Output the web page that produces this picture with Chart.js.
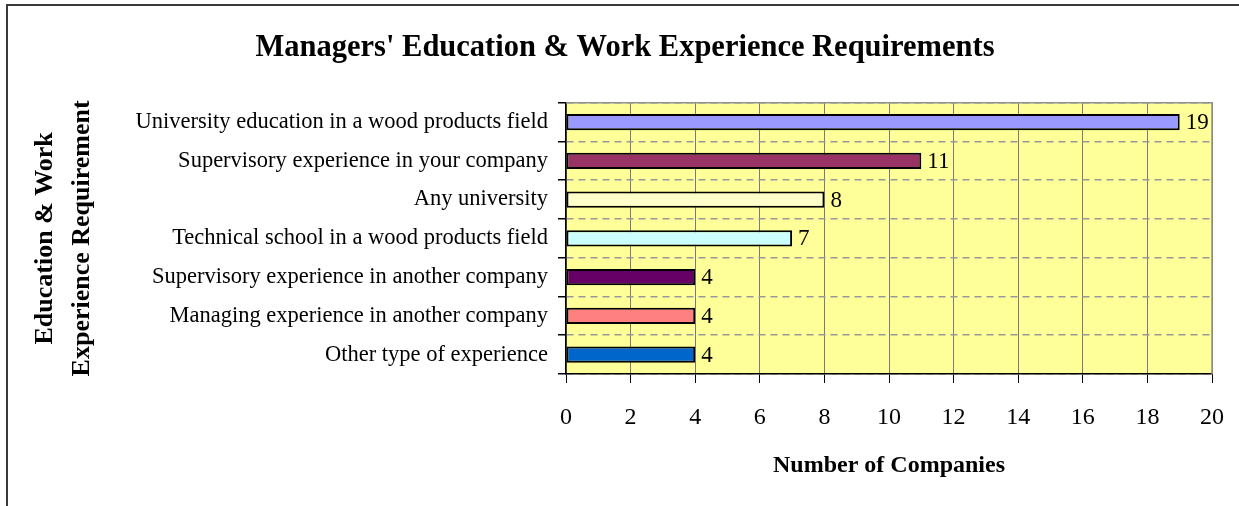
<!DOCTYPE html>
<html>
<head>
<meta charset="utf-8">
<script src="https://cdn.jsdelivr.net/npm/chart.js@4/dist/chart.umd.min.js"></script>
<style>
  html, body { margin: 0; padding: 0; background: #fff; }
  #wrap { position: relative; width: 1239px; height: 506px; overflow: hidden; }
  #frame { position: absolute; left: 6px; top: 4px; width: 1400px; height: 700px;
           border-left: 2px solid #3a3a3a; border-top: 2px solid #3a3a3a; }
  canvas { position: absolute; left: 0; top: 0; }
</style>
</head>
<body>
<div id="wrap">
  <div id="frame"></div>
  <canvas id="chart" width="1239" height="506"></canvas>
</div>
<script>
// values
const requirements = [
  'University education in a wood products field',
  'Supervisory experience in your company',
  'Any university',
  'Technical school in a wood products field',
  'Supervisory experience in another company',
  'Managing experience in another company',
  'Other type of experience'
];
const companies = [19, 11, 8, 7, 4, 4, 4];
const barColors = ['#9999FF', '#993366', '#FFFFCC', '#CCFFFF', '#660066', '#FF8080', '#0066CC'];
const xTicks = [0, 2, 4, 6, 8, 10, 12, 14, 16, 18, 20];

const serif = "'Liberation Serif', 'Times New Roman', serif";

// yellow plot area + grey top/right frame
const plotArea = {
  id: 'plotArea',
  beforeDraw(chart) {
    const { ctx, chartArea: a } = chart;
    ctx.save();
    ctx.fillStyle = '#FFFF99';
    ctx.fillRect(a.left, a.top, a.right - a.left, a.bottom - a.top);
    ctx.restore();
  },
  afterDatasetsDraw(chart) {
    const { ctx, chartArea: a } = chart;
    ctx.save();
    ctx.strokeStyle = '#909090';
    ctx.lineWidth = 1.5;
    ctx.beginPath();
    ctx.moveTo(a.left, a.top);
    ctx.lineTo(a.right, a.top);
    ctx.lineTo(a.right, a.bottom);
    ctx.stroke();
    ctx.restore();
  }
};

// value next to each bar
const barValues = {
  id: 'barValues',
  afterDatasetsDraw(chart) {
    const { ctx } = chart;
    const meta = chart.getDatasetMeta(0);
    ctx.save();
    ctx.font = '23px ' + serif;
    ctx.fillStyle = '#000';
    ctx.textBaseline = 'middle';
    meta.data.forEach((bar, i) => {
      ctx.fillText(String(companies[i]), bar.x + 6, bar.y + 1);
    });
    ctx.restore();
  }
};

new Chart(document.getElementById('chart').getContext('2d'), {
  type: 'bar',
  data: {
    labels: requirements,
    datasets: [{
      data: companies,
      backgroundColor: barColors,
      borderColor: '#000',
      borderWidth: 2,
      borderSkipped: false,
      categoryPercentage: 1,
      barPercentage: 0.42
    }]
  },
  options: {
    indexAxis: 'y',
    responsive: false,
    animation: false,
    events: [],
    layout: { padding: { top: 0, right: 27, bottom: 0, left: 38 } },
    plugins: {
      legend: { display: false },
      tooltip: { enabled: false },
      title: {
        display: true,
        text: "Managers' Education & Work Experience Requirements",
        color: '#000',
        font: { family: serif, size: 30.5, weight: 'bold' },
        padding: { top: 29.5, bottom: 36.6 }
      }
    },
    scales: {
      x: {
        min: 0, max: 20,
        afterBuildTicks(axis) { axis.ticks = xTicks.map(v => ({ value: v })); },
        afterFit(axis) { axis.height = 132; axis.paddingLeft = 0; axis.paddingRight = 0; },
        grid: { color: '#7a7a7a', lineWidth: 1, tickColor: '#000', tickLength: 9 },
        border: { color: '#000', width: 1.5 },
        ticks: { color: '#000', padding: 20, font: { family: serif, size: 24 } },
        title: {
          display: true, text: 'Number of Companies', color: '#000',
          font: { family: serif, size: 24, weight: 'bold' },
          padding: { top: 0, bottom: 25.5 }
        }
      },
      y: {
        afterFit(axis) { axis.width = 566 - 38; },
        grid: { color: '#999', lineWidth: 1.5, tickColor: '#000', tickLength: 8, offset: true },
        border: { color: '#000', width: 1.5, dash: [7, 5] },
        ticks: { color: '#000', padding: 10, font: { family: serif, size: 22.5 } },
        title: {
          display: true, text: ['Education & Work', 'Experience Requirement'], color: '#000',
          font: { family: serif, size: 26, weight: 'bold', lineHeight: 1.423 },
          padding: { top: -11.5, bottom: 0 }
        }
      }
    }
  },
  plugins: [plotArea, barValues]
});
</script>
</body>
</html>
